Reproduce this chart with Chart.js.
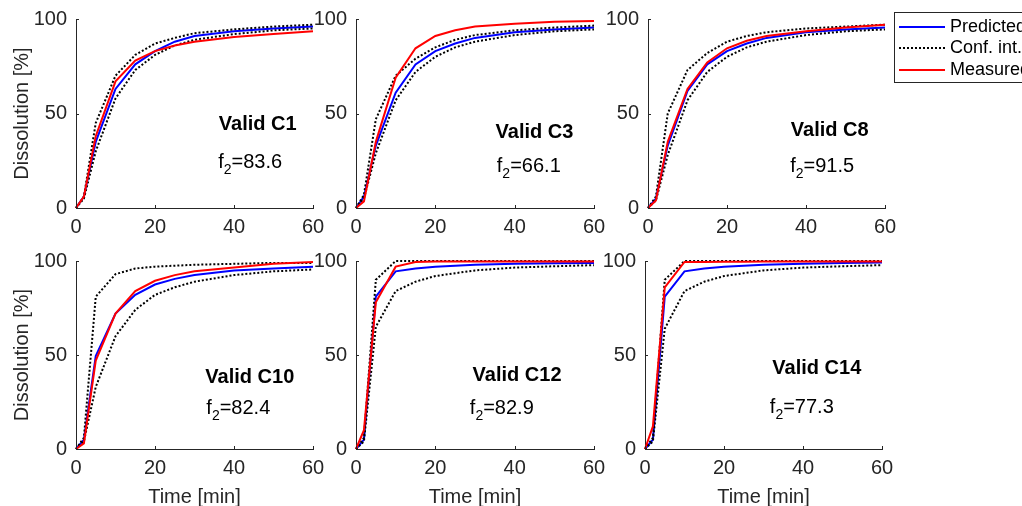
<!DOCTYPE html>
<html>
<head>
<meta charset="utf-8">
<script src="https://cdn.jsdelivr.net/npm/chart.js@4/dist/chart.umd.min.js"></script>
<style>
  body { margin: 0; background: #fff; overflow: hidden; width: 1022px; height: 506px; position: relative; }
  canvas { position: absolute; }
</style>
</head>
<body>
<script>
// sampling times [min]
const times = [0, 2, 5, 10, 15, 20, 25, 30, 40, 50, 60];
const batches = ['Valid C1', 'Valid C3', 'Valid C8', 'Valid C10', 'Valid C12', 'Valid C14'];
const f2Values = ['83.6', '66.1', '91.5', '82.4', '82.9', '77.3'];
const xTicks = [0, 20, 40, 60];
const yTicks = [0, 50, 100];
const legendLabels = ['Predicted', 'Conf. int.', 'Measured'];

// dissolution [%], one row per batch
const predicted = [
  [0, 6, 35, 63, 76, 83, 88, 91, 93.5, 95, 96],
  [0, 6, 33, 61, 76, 83, 87, 90, 93, 94.5, 95.5],
  [0, 5, 33, 62, 76, 83, 87, 90, 93, 94.5, 95.5],
  [0, 5, 49.5, 72, 82, 87.5, 90.5, 92.5, 95, 96, 97],
  [0, 5, 81, 94.5, 96, 97, 97.5, 98, 98.5, 98.8, 99],
  [0, 5, 81, 94.5, 96, 97, 97.5, 98, 98.5, 99, 99.2]
];
const confUpper = [
  [0, 6, 45, 70, 81, 87, 90, 92.5, 94.5, 96, 97],
  [0, 7, 47, 70, 79, 85, 89, 91.5, 94, 95.5, 96.5],
  [0, 6, 50, 73, 82, 88, 91, 93, 95, 96, 97],
  [0, 6, 81, 93, 96, 97, 97.5, 98, 98.5, 99, 99],
  [0, 6, 90, 100, 100, 100, 100, 100, 100, 100, 100],
  [0, 6, 90, 100, 100, 100, 100, 100, 100, 100, 100]
];
const confLower = [
  [0, 5, 30, 58, 73, 81, 86, 89, 92, 94, 95],
  [0, 5, 29, 57, 72, 80, 85, 88, 91.5, 93.5, 94.5],
  [0, 4, 28, 57, 72, 80, 85, 88, 91.5, 93.5, 94.5],
  [0, 4, 33, 60, 74, 82, 86, 89, 92.5, 94.5, 95.5],
  [0, 4, 65, 84, 89, 92, 93.5, 95, 96.5, 97.2, 97.8],
  [0, 4, 64, 84, 89, 92, 93.5, 95, 96.5, 97.2, 97.8]
];
const measured = [
  [0, 6, 38, 67, 78, 83, 86, 88, 90.5, 92, 93.5],
  [0, 3.5, 35, 69, 84.5, 91, 94, 96, 97.5, 98.5, 99],
  [0, 4, 35, 63, 77, 84.5, 88.5, 91, 93.5, 95.5, 97],
  [0, 3, 47, 72, 84, 89.5, 92.5, 94.5, 96.5, 98.5, 99.5],
  [0, 10, 78, 97, 99.5, 99.7, 99.8, 99.8, 99.8, 99.8, 99.8],
  [0, 12, 86, 99.5, 99.5, 99.6, 99.6, 99.7, 99.7, 99.7, 99.7]
];

const axisColor = '#262626';
const fontFamily = '"Liberation Sans", Arial, sans-serif';

// plot boxes in page pixels + where the text sits (data units)
const panels = [
  { L: 76,  T: 19,  R: 313, B: 208, ml: 76, mr: 26,  mb: 30, yTitle: true,  xTitle: false, lab: [46, 44], f2: [36, 24] },
  { L: 356, T: 19,  R: 594, B: 208, ml: 45, mr: 26,  mb: 30, yTitle: false, xTitle: false, lab: [45, 40], f2: [35.5, 22] },
  { L: 648, T: 19,  R: 885, B: 208, ml: 45, mr: 137, mb: 30, yTitle: false, xTitle: false, lab: [46, 41], f2: [36, 22], legend: true },
  { L: 76,  T: 261, R: 313, B: 449, ml: 76, mr: 26,  mb: 60, yTitle: true,  xTitle: true,  lab: [44, 38], f2: [33, 21.5] },
  { L: 356, T: 261, R: 594, B: 449, ml: 45, mr: 26,  mb: 60, yTitle: false, xTitle: true,  lab: [40.6, 39], f2: [28.7, 21.5] },
  { L: 645, T: 261, R: 882, B: 449, ml: 45, mr: 26,  mb: 60, yTitle: false, xTitle: true,  lab: [43.5, 43], f2: [31.6, 22] }
];

const pts = arr => times.map((t, k) => ({ x: t, y: arr[k] }));

// MATLAB-style inward tick marks
const inwardTicks = {
  id: 'inwardTicks',
  afterDatasetsDraw(chart) {
    const { ctx, chartArea: a, scales: { x, y } } = chart;
    ctx.save();
    ctx.strokeStyle = axisColor;
    ctx.lineWidth = 1;
    ctx.beginPath();
    xTicks.forEach(v => {
      const px = Math.round(x.getPixelForValue(v)) + 0.5;
      ctx.moveTo(px, a.bottom); ctx.lineTo(px, a.bottom - 3);
    });
    yTicks.forEach(v => {
      const py = Math.round(y.getPixelForValue(v)) + 0.5;
      ctx.moveTo(a.left, py); ctx.lineTo(a.left + 3, py);
    });
    ctx.stroke();
    ctx.restore();
  }
};

// batch name + f2 value inside each panel
const panelText = {
  id: 'panelText',
  afterDraw(chart, args, opts) {
    const { ctx, scales: { x, y } } = chart;
    ctx.save();
    ctx.fillStyle = '#000';
    ctx.textBaseline = 'middle';
    ctx.textAlign = 'center';
    ctx.font = 'bold 20px ' + fontFamily;
    ctx.fillText(opts.name, x.getPixelForValue(opts.lab[0]), y.getPixelForValue(opts.lab[1]));
    let px = x.getPixelForValue(opts.f2[0]);
    const py = y.getPixelForValue(opts.f2[1]);
    ctx.textAlign = 'left';
    ctx.font = '20px ' + fontFamily;
    ctx.fillText('f', px, py);
    px += ctx.measureText('f').width;
    ctx.font = '14px ' + fontFamily;
    ctx.fillText('2', px, py + 8);
    px += ctx.measureText('2').width;
    ctx.font = '20px ' + fontFamily;
    ctx.fillText('=' + opts.value, px, py);
    ctx.restore();
  }
};

// boxed legend to the right of the third panel (runs off the page edge)
const boxLegend = {
  id: 'boxLegend',
  afterDraw(chart, args, opts) {
    if (!opts.show) return;
    const { ctx } = chart;
    const ox = opts.ox, oy = opts.oy;
    ctx.save();
    ctx.fillStyle = '#fff';
    ctx.fillRect(894 - ox, 12 - oy, 200, 70);
    ctx.strokeStyle = axisColor;
    ctx.lineWidth = 1;
    ctx.strokeRect(894.5 - ox, 12.5 - oy, 200, 70);
    const styles = [
      { c: '#0000ff', d: [] },
      { c: '#000000', d: [2, 2] },
      { c: '#ff0000', d: [] }
    ];
    const rows = [27, 48, 70];
    ctx.font = '18px ' + fontFamily;
    ctx.textBaseline = 'middle';
    legendLabels.forEach((lbl, k) => {
      const yy = rows[k] - oy;
      ctx.strokeStyle = styles[k].c;
      ctx.lineWidth = 2;
      ctx.setLineDash(styles[k].d);
      ctx.beginPath();
      ctx.moveTo(899 - ox, yy); ctx.lineTo(945 - ox, yy);
      ctx.stroke();
      ctx.setLineDash([]);
      ctx.fillStyle = '#000';
      ctx.fillText(lbl, 950 - ox, yy);
    });
    ctx.restore();
  }
};

function makePanel(i) {
  const p = panels[i];
  const mt = 24;
  const w = p.R - p.L + p.ml + p.mr;
  const h = p.B - p.T + mt + p.mb;
  const cv = document.createElement('canvas');
  cv.width = w; cv.height = h;
  cv.style.left = (p.L - p.ml) + 'px';
  cv.style.top = (p.T - mt) + 'px';
  cv.style.width = w + 'px';
  cv.style.height = h + 'px';
  document.body.appendChild(cv);

  const tickFont = { family: fontFamily, size: 20 };
  new Chart(cv, {
    type: 'line',
    data: {
      datasets: [
        { label: 'Predicted', data: pts(predicted[i]), borderColor: '#0000ff', borderWidth: 2, order: 2 },
        { label: 'Conf. int.', data: pts(confUpper[i]), borderColor: '#000', borderWidth: 2, borderDash: [2, 2], order: 1 },
        { label: 'Conf. int. low', data: pts(confLower[i]), borderColor: '#000', borderWidth: 2, borderDash: [2, 2], order: 1 },
        { label: 'Measured', data: pts(measured[i]), borderColor: '#ff0000', borderWidth: 2, order: 0 }
      ]
    },
    options: {
      responsive: false,
      animation: false,
      devicePixelRatio: 1,
      layout: { padding: { top: mt, right: p.mr, left: 0, bottom: 0 } },
      elements: { point: { radius: 0 }, line: { tension: 0, fill: false } },
      datasets: { line: { clip: false } },
      plugins: {
        legend: { display: false },
        tooltip: { enabled: false },
        panelText: { name: batches[i], value: f2Values[i], lab: p.lab, f2: p.f2 },
        boxLegend: { show: !!p.legend, ox: p.L - p.ml, oy: p.T - mt }
      },
      scales: {
        x: {
          type: 'linear', min: 0, max: 60,
          afterBuildTicks: s => { s.ticks = xTicks.map(v => ({ value: v })); },
          ticks: { color: axisColor, font: tickFont, padding: 7, maxRotation: 0, autoSkip: false },
          grid: { drawOnChartArea: false, drawTicks: false },
          border: { color: axisColor, width: 1 },
          title: { display: p.xTitle, text: 'Time [min]', color: axisColor, font: tickFont, padding: 0 },
          afterFit: s => { s.height = p.mb; }
        },
        y: {
          type: 'linear', min: 0, max: 100,
          afterBuildTicks: s => { s.ticks = yTicks.map(v => ({ value: v })); },
          ticks: { color: axisColor, font: tickFont, padding: 9 },
          grid: { drawOnChartArea: false, drawTicks: false },
          border: { color: axisColor, width: 1 },
          title: { display: p.yTitle, text: 'Dissolution [%]', color: axisColor, font: tickFont, padding: { top: 10, bottom: 0 } },
          afterFit: s => { s.width = p.ml; }
        }
      }
    },
    plugins: [inwardTicks, panelText, boxLegend]
  });
}

panels.forEach((p, i) => makePanel(i));
</script>
</body>
</html>
